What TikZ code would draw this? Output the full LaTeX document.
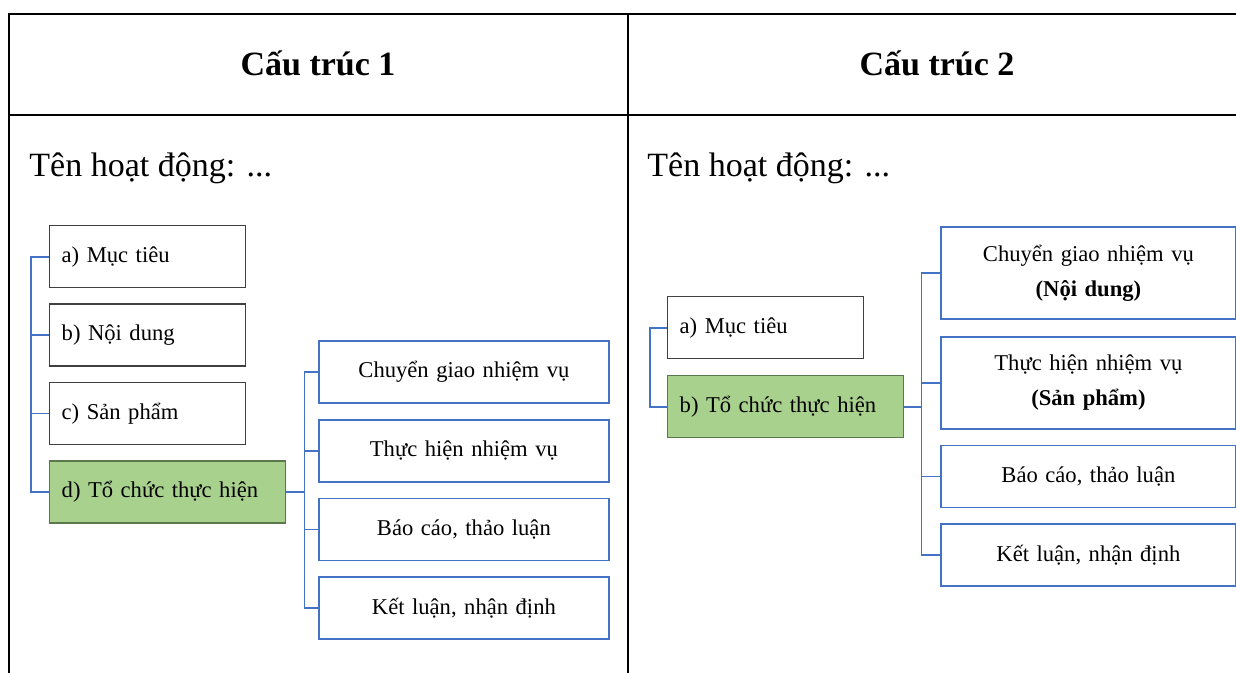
\documentclass[tikz,border=0pt]{standalone}
\usepackage{fontspec}
\setmainfont{Liberation Serif}
\usetikzlibrary{positioning}

\definecolor{linkblue}{RGB}{68,114,196}
\definecolor{boxgreen}{RGB}{169,209,142}
\definecolor{greenedge}{RGB}{90,120,75}

\tikzset{
  itembox/.style={draw=black!75, line width=0.7pt, anchor=north west, inner xsep=6pt, inner ysep=0pt,
    minimum height=31pt, text width=86pt, align=left, font=\fontsize{11.3}{14}\selectfont},
  keybox/.style={itembox, fill=boxgreen, draw=greenedge, text width=106pt},
  stepbox/.style={draw=linkblue, line width=0.9pt, anchor=north west, inner sep=0pt,
    minimum height=31pt, text width=145pt, align=center, font=\fontsize{11.3}{17.5}\selectfont},
  link/.style={draw=linkblue, line width=0.9pt},
  frame/.style={line width=1pt},
  heading/.style={anchor=base, font=\bfseries\fontsize{17}{20}\selectfont},
  actname/.style={anchor=base west, inner sep=0pt, font=\fontsize{17}{20}\selectfont}
}

\begin{document}
\begin{tikzpicture}[x=0.5pt, y=-0.5pt]
  \useasboundingbox (0,0) rectangle (1236,673);

  % table
  \draw[frame] (9,673) -- (9,14) -- (1236,14);
  \draw[frame] (9,115) -- (1236,115);
  \draw[frame] (628,14) -- (628,673);

  \node[heading] (title1) at (318,76) {Cấu trúc 1};
  \node[heading] (title2) at (937,76) {Cấu trúc 2};
  \node[actname] (name1) at (29,177) {Tên hoạt động: ...};
  \node[actname] (name2) at (647,177) {Tên hoạt động: ...};

  % structure 1
  \node[itembox] (a1) at (49,225) {a) Mục tiêu};
  \node[itembox, below=7.5pt of a1] (b1) {b) Nội dung};
  \node[itembox, below=7.5pt of b1] (c1) {c) Sản phẩm};
  \node[keybox, below right=7.5pt and 0pt of c1.south west] (d1) {d) Tổ chức thực hiện};

  \node[stepbox] (s1) at (318,340) {Chuyển giao nhiệm vụ};
  \node[stepbox, below=7.5pt of s1] (s2) {Thực hiện nhiệm vụ};
  \node[stepbox, below=7.5pt of s2] (s3) {Báo cáo, thảo luận};
  \node[stepbox, below=7.5pt of s3] (s4) {Kết luận, nhận định};

  \draw[link] (a1.west) -- ++(-18,0) |- (d1.west);
  \foreach \n in {b1,c1}
    \draw[link] (\n.west) -- ++(-18,0);
  \foreach \n in {s1,s2,s3,s4}
    \draw[link] (d1.east) -- ++(18,0) |- (\n.west);

  % structure 2
  \node[itembox] (a2) at (667,296) {a) Mục tiêu};
  \node[keybox] (b2) at (667,375) {b) Tổ chức thực hiện};

  \node[stepbox, text width=147.5pt, minimum height=46pt] (t1) at (940,226) {Chuyển giao nhiệm vụ\\\textbf{(Nội dung)}};
  \node[stepbox, text width=147.5pt, minimum height=46pt, below=8pt of t1] (t2) {Thực hiện nhiệm vụ\\\textbf{(Sản phẩm)}};
  \node[stepbox, text width=147.5pt, below=7.5pt of t2] (t3) {Báo cáo, thảo luận};
  \node[stepbox, text width=147.5pt, below=7.5pt of t3] (t4) {Kết luận, nhận định};

  \draw[link] (a2.west) -- ++(-17,0) |- (b2.west);
  \foreach \n in {t1,t2,t3,t4}
    \draw[link] (b2.east) -- ++(17,0) |- (\n.west);
\end{tikzpicture}
\end{document}
